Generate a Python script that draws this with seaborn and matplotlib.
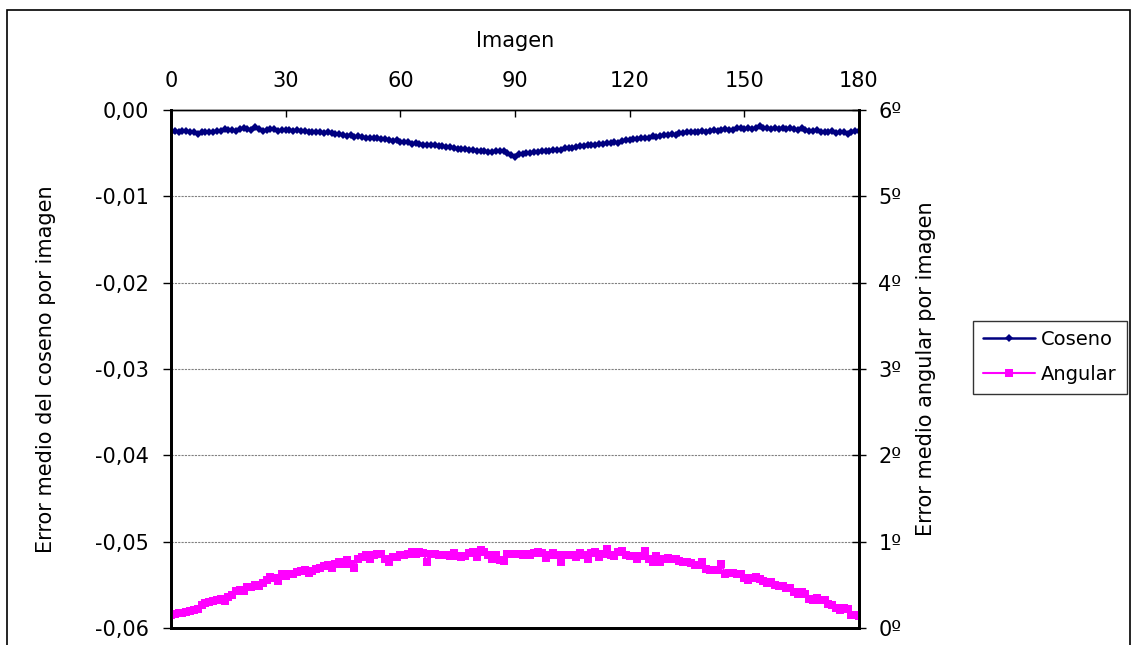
import numpy as np
import pandas as pd
import matplotlib
matplotlib.use("Agg")
import matplotlib.pyplot as plt
import seaborn as sns
from matplotlib.patches import Rectangle
from matplotlib.ticker import FuncFormatter

# image index 0..180
imagen = list(range(181))

# mean cosine error per image (left axis)
coseno = [
    -0.0025, -0.0024, -0.0025, -0.0024, -0.0024, -0.0025, -0.0026, -0.0028, -0.0026, -0.0026, -0.0025,
    -0.0025, -0.0024, -0.0024, -0.0022, -0.0023, -0.0023, -0.0024, -0.0022, -0.0021, -0.0022,
    -0.0023, -0.0020, -0.0022, -0.0024, -0.0023, -0.0022, -0.0022, -0.0024, -0.0023, -0.0023,
    -0.0023, -0.0024, -0.0023, -0.0024, -0.0024, -0.0025, -0.0025, -0.0025, -0.0026, -0.0027,
    -0.0026, -0.0027, -0.0028, -0.0028, -0.0029, -0.0030, -0.0029, -0.0031, -0.0030, -0.0031,
    -0.0032, -0.0032, -0.0033, -0.0033, -0.0034, -0.0034, -0.0035, -0.0036, -0.0035, -0.0037,
    -0.0037, -0.0037, -0.0039, -0.0038, -0.0039, -0.0040, -0.0040, -0.0040, -0.0041, -0.0042,
    -0.0042, -0.0043, -0.0043, -0.0044, -0.0045, -0.0045, -0.0045, -0.0046, -0.0046, -0.0047,
    -0.0047, -0.0048, -0.0049, -0.0049, -0.0048, -0.0047, -0.0048, -0.0050, -0.0052, -0.0054,
    -0.0051, -0.0051, -0.0050, -0.0050, -0.0049, -0.0049, -0.0048, -0.0048, -0.0047, -0.0046,
    -0.0046, -0.0046, -0.0044, -0.0044, -0.0044, -0.0043, -0.0042, -0.0042, -0.0041, -0.0041,
    -0.0040, -0.0039, -0.0039, -0.0038, -0.0038, -0.0037, -0.0038, -0.0036, -0.0035, -0.0035,
    -0.0034, -0.0034, -0.0033, -0.0032, -0.0032, -0.0030, -0.0031, -0.0030, -0.0029, -0.0029,
    -0.0028, -0.0029, -0.0027, -0.0027, -0.0026, -0.0026, -0.0025, -0.0025, -0.0024, -0.0025,
    -0.0024, -0.0023, -0.0024, -0.0023, -0.0022, -0.0023, -0.0023, -0.0021, -0.0021, -0.0022,
    -0.0021, -0.0022, -0.0021, -0.0019, -0.0021, -0.0021, -0.0022, -0.0021, -0.0022, -0.0021,
    -0.0022, -0.0021, -0.0022, -0.0023, -0.0021, -0.0023, -0.0024, -0.0024, -0.0023, -0.0026,
    -0.0025, -0.0025, -0.0024, -0.0027, -0.0026, -0.0025, -0.0028, -0.0026, -0.0024, -0.0024,
]

# mean angular error per image, degrees (right axis)
angular = [
    0.15, 0.16, 0.17, 0.17, 0.18, 0.20,
    0.21, 0.22, 0.27, 0.29, 0.30,
    0.31, 0.33, 0.34, 0.31, 0.36,
    0.38, 0.43, 0.44, 0.43, 0.47,
    0.48, 0.50, 0.49, 0.52, 0.56,
    0.59, 0.58, 0.54, 0.62, 0.60,
    0.63, 0.63, 0.65, 0.66, 0.67,
    0.64, 0.66, 0.68, 0.69, 0.72,
    0.73, 0.70, 0.74, 0.76, 0.74,
    0.79, 0.74, 0.70, 0.80, 0.82,
    0.85, 0.80, 0.84, 0.86, 0.86,
    0.80, 0.77, 0.82, 0.82, 0.85,
    0.85, 0.86, 0.88, 0.86, 0.88,
    0.87, 0.76, 0.86, 0.86, 0.85,
    0.85, 0.84, 0.83, 0.87, 0.83,
    0.82, 0.83, 0.87, 0.88, 0.82,
    0.90, 0.88, 0.84, 0.80, 0.84,
    0.79, 0.78, 0.86, 0.86, 0.86,
    0.86, 0.85, 0.86, 0.85, 0.87,
    0.88, 0.87, 0.81, 0.85, 0.87,
    0.84, 0.77, 0.84, 0.84, 0.85,
    0.82, 0.87, 0.84, 0.80, 0.87,
    0.88, 0.82, 0.86, 0.92, 0.85,
    0.83, 0.88, 0.89, 0.85, 0.83,
    0.83, 0.80, 0.83, 0.89, 0.80,
    0.76, 0.83, 0.77, 0.80, 0.81,
    0.80, 0.80, 0.78, 0.77, 0.76,
    0.75, 0.73, 0.73, 0.76, 0.68,
    0.67, 0.67, 0.67, 0.74, 0.63,
    0.64, 0.64, 0.63, 0.63, 0.58,
    0.56, 0.58, 0.59, 0.57, 0.54,
    0.52, 0.53, 0.50, 0.49, 0.49,
    0.46, 0.46, 0.42, 0.39, 0.42,
    0.39, 0.34, 0.33, 0.35, 0.33,
    0.33, 0.28, 0.27, 0.23, 0.21,
    0.23, 0.22, 0.15, 0.15, 0.14,
]

x_ticks = [0, 30, 60, 90, 120, 150, 180]
left_ticks = [0.0, -0.01, -0.02, -0.03, -0.04, -0.05, -0.06]
right_ticks = [0, 1, 2, 3, 4, 5, 6]

df = pd.DataFrame({"imagen": imagen, "coseno": coseno, "angular": angular})

sns.set_style("white")
plt.rcParams["font.family"] = ["DejaVu Sans"]
for k in ("text.color", "axes.labelcolor", "xtick.color", "ytick.color"):
    plt.rcParams[k] = "black"
FS = 15

fig = plt.figure(figsize=(11.38, 6.45), dpi=100)
ax = fig.add_axes([171 / 1138, 1 - 628 / 645, (859 - 171) / 1138, (628 - 110) / 645])
ax2 = ax.twinx()

# outer chart frame
fig.patches.append(Rectangle((7 / 1138, -0.05), 1123 / 1138, 1.05 - 10 / 645,
                             transform=fig.transFigure, fill=False,
                             edgecolor="black", linewidth=1.2))

sns.lineplot(data=df, x="imagen", y="coseno", ax=ax, color="#000080",
             marker="D", markersize=4.5, markeredgewidth=0, linewidth=1.8,
             label="Coseno", legend=False)
sns.lineplot(data=df, x="imagen", y="angular", ax=ax2, color="#FF00FF",
             marker="s", markersize=6, markeredgewidth=0, linewidth=1.5,
             label="Angular", legend=False)

ax.set_xlim(0, 180)
ax.set_ylim(-0.06, 0.0)
ax2.set_ylim(0, 6)

ax.xaxis.tick_top()
ax.xaxis.set_label_position("top")
ax.set_xticks(x_ticks)
ax.set_xlabel("Imagen", fontsize=FS, labelpad=17)
ax.tick_params(axis="x", direction="in", length=5, width=1, labelsize=FS, pad=14,
               top=True, bottom=False)

ax.set_yticks(left_ticks)
ax.yaxis.set_major_formatter(FuncFormatter(lambda v, p: f"{v:.2f}".replace(".", ",").replace("-0,00", "0,00")))
ax.tick_params(axis="y", direction="out", length=6, width=1, labelsize=FS, left=True, pad=10)
ax.set_ylabel("Error medio del coseno por imagen", fontsize=FS, labelpad=28)

ax2.set_yticks(right_ticks)
ax2.set_yticklabels([f"{t}º" for t in right_ticks])
ax2.tick_params(axis="y", direction="inout", length=10, width=1, labelsize=FS, right=True, pad=9)
ax2.set_ylabel("Error medio angular por imagen", fontsize=FS, labelpad=10)

for v in left_ticks[1:-1]:
    ax.axhline(v, color="#808080", linestyle=(0, (2, 1)), linewidth=0.8, zorder=0)

for a in (ax, ax2):
    for s in a.spines.values():
        s.set_color("black")
    a.spines["left"].set_linewidth(2)
    a.spines["right"].set_linewidth(2)
    a.spines["bottom"].set_linewidth(2)
    a.spines["top"].set_linewidth(1)

h1, l1 = ax.get_legend_handles_labels()
h2, l2 = ax2.get_legend_handles_labels()
leg = fig.legend(h1 + h2, l1 + l2, loc="center", bbox_to_anchor=(1050 / 1138, 1 - 357 / 645),
                 fontsize=14, frameon=True, fancybox=False, edgecolor="black",
                 handlelength=2.7, handletextpad=0.3, labelspacing=0.8, borderpad=0.5,
                 borderaxespad=0)
leg.get_frame().set_linewidth(1)

fig.savefig("out.png", dpi=100)
